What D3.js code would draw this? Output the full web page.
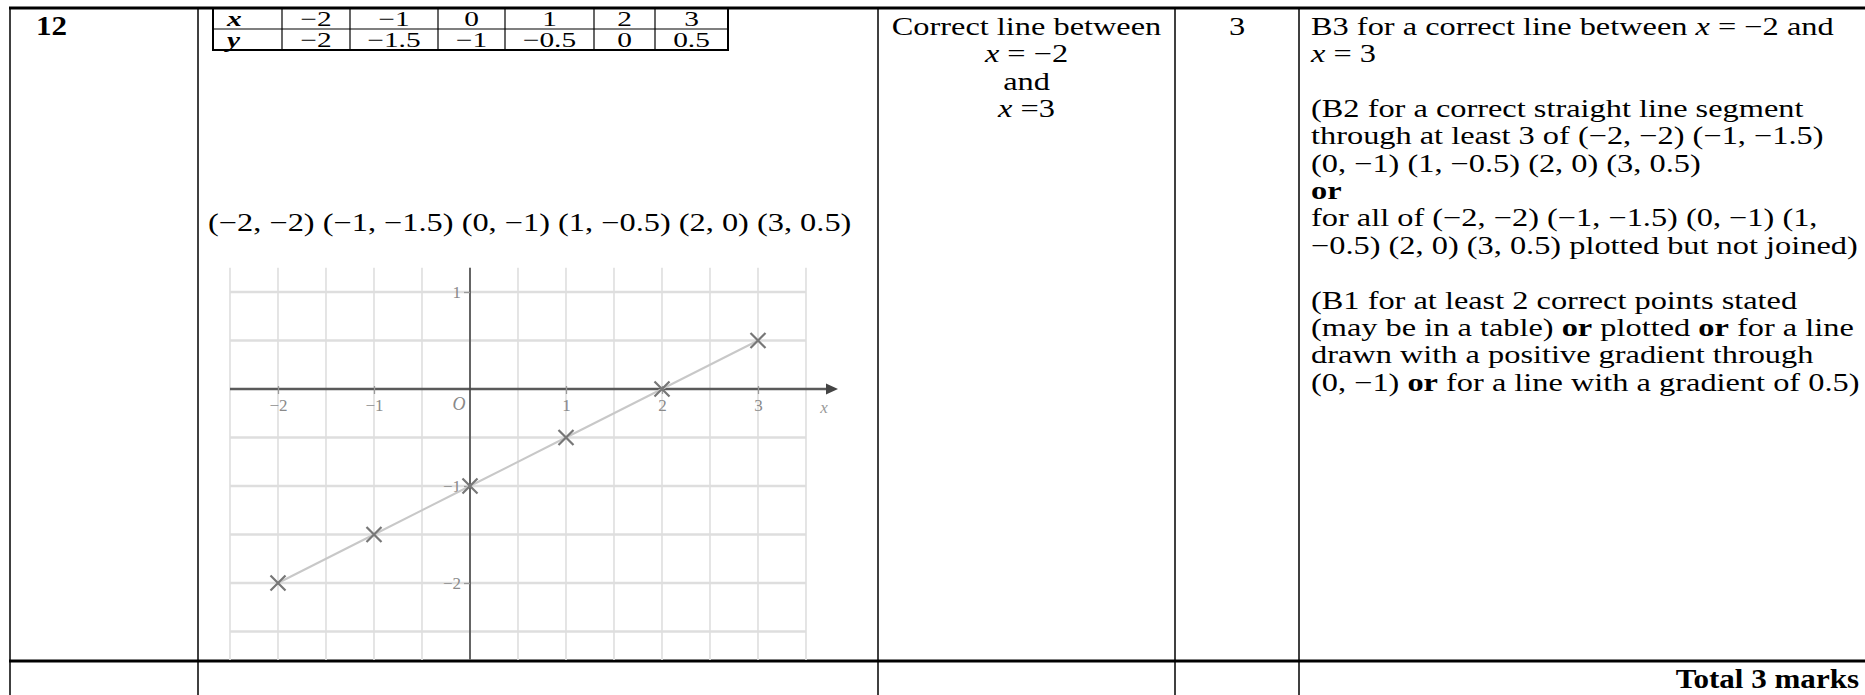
<!DOCTYPE html>
<html>
<head>
<meta charset="utf-8">
<script src="https://cdn.jsdelivr.net/npm/d3@7"></script>
<style>
  body { margin: 0; background: #fff; }
  svg { display: block; font-family: "Liberation Serif", "Times New Roman", serif; }
</style>
</head>
<body>
<svg id="sheet" width="1865" height="695"></svg>
<script>
// data
const xValues = [-2, -1, 0, 1, 2, 3];
const yValues = [-2, -1.5, -1, -0.5, 0, 0.5];
const xTicks = [-2, -1, 1, 2, 3];
const yTicks = [1, -1, -2];
const gridX = [-2.5, -2, -1.5, -1, -0.5, 0, 0.5, 1, 1.5, 2, 2.5, 3, 3.5];
const gridY = [1, 0.5, -0.5, -1, -1.5, -2, -2.5];
const marks = 3;

const fmt = v => String(v).replace("-", "\u2212");

const svg = d3.select("#sheet");
const SX = 1.27;     // scan is wider than tall
const FS = 25.5;
const LH = 27.35;
const TOP = 35;

function txt(parent, x, y, parts, opts = {}) {
  const t = parent.append("text")
    .attr("transform", `translate(${x},${y}) scale(${opts.sx || SX},1)`)
    .attr("font-size", opts.size || FS)
    .attr("text-anchor", opts.anchor || "start")
    .attr("fill", "#000");
  if (opts.bold) t.attr("font-weight", "bold");
  const list = typeof parts === "string" ? [[parts]] : parts;
  list.forEach(([s, st]) => {
    const sp = t.append("tspan").text(s);
    if (st && st.includes("i")) sp.attr("font-style", "italic");
    if (st && st.includes("b")) sp.attr("font-weight", "bold");
  });
  return t;
}

// table frame
const cols = [10, 198, 878, 1175, 1299];
const topY = 8, sepY = 661;
const frame = svg.append("g").attr("stroke", "#000");
cols.forEach(x => frame.append("line")
  .attr("x1", x).attr("x2", x).attr("y1", topY).attr("y2", 695)
  .attr("stroke-width", 1.5));
frame.append("line").attr("x1", 9).attr("x2", 1865).attr("y1", topY).attr("y2", topY).attr("stroke-width", 3);
frame.append("line").attr("x1", 9).attr("x2", 1865).attr("y1", sepY).attr("y2", sepY).attr("stroke-width", 3);

// column 1
txt(svg, 36, TOP, "12", { bold: true, size: 27, sx: 1.15 });

// small value table
const cellX = [213, 282, 350, 438, 505, 594, 655, 728];
const tRows = [8, 29, 50];
const tbl = svg.append("g");
tbl.append("rect")
  .attr("x", cellX[0]).attr("y", tRows[0])
  .attr("width", cellX[7] - cellX[0]).attr("height", tRows[2] - tRows[0])
  .attr("fill", "none").attr("stroke", "#000").attr("stroke-width", 2);
tbl.append("line").attr("x1", cellX[0]).attr("x2", cellX[7])
  .attr("y1", tRows[1]).attr("y2", tRows[1]).attr("stroke", "#000").attr("stroke-width", 1.2);
cellX.slice(1, 7).forEach(x => tbl.append("line")
  .attr("x1", x).attr("x2", x).attr("y1", tRows[0]).attr("y2", tRows[2])
  .attr("stroke", "#000").attr("stroke-width", 1.2));
const rowCells = [["x", xValues], ["y", yValues]];
rowCells.forEach(([head, vals], r) => {
  const by = r === 0 ? 25.5 : 46.5;
  const o = { anchor: "middle", size: 21, sx: 1.4 };
  txt(tbl, cellX[0] + 14, by, [[head, "ib"]], { size: 21, sx: 1.4 });
  vals.forEach((v, i) => {
    txt(tbl, (cellX[i + 1] + cellX[i + 2]) / 2, by, fmt(v), o);
  });
});

// list of points
const pointsText = xValues.map((x, i) => `(${fmt(x)}, ${fmt(yValues[i])})`).join(" ");
txt(svg, 208, 231, pointsText);

// graph
const xScale = d3.scaleLinear().domain([-2, 3]).range([278, 758]);
const yScale = d3.scaleLinear().domain([-2, 1]).range([583, 292]);
const gTop = yScale(1.25), gBottom = sepY - 1;
const graph = svg.append("g");

graph.selectAll(".vgrid").data(gridX).enter().append("line")
  .attr("class", "vgrid")
  .attr("x1", d => xScale(d)).attr("x2", d => xScale(d))
  .attr("y1", gTop).attr("y2", gBottom)
  .attr("stroke", "#e2e2e2").attr("stroke-width", 1.8);
graph.selectAll(".hgrid").data(gridY).enter().append("line")
  .attr("class", "hgrid")
  .attr("x1", xScale(-2.5)).attr("x2", xScale(3.5))
  .attr("y1", d => yScale(d)).attr("y2", d => yScale(d))
  .attr("stroke", "#dedede").attr("stroke-width", 2.4);

// axes
const x0 = xScale(0), y0 = yScale(0);
const xEnd = 826;
graph.append("line")
  .attr("x1", xScale(-2.5)).attr("x2", xEnd)
  .attr("y1", y0).attr("y2", y0)
  .attr("stroke", "#5a5a5a").attr("stroke-width", 2.5);
graph.append("path")
  .attr("d", `M${xEnd},${y0 - 5.5} L${xEnd + 12},${y0} L${xEnd},${y0 + 5.5} Z`)
  .attr("fill", "#444");
graph.append("line")
  .attr("x1", x0).attr("x2", x0)
  .attr("y1", gTop).attr("y2", gBottom)
  .attr("stroke", "#444").attr("stroke-width", 1.6);

const xAxis = graph.append("g")
  .attr("transform", `translate(0,${y0 - 3})`)
  .call(d3.axisBottom(xScale).tickValues(xTicks).tickFormat(d3.format("d")).tickSize(8).tickPadding(5));
const yAxis = graph.append("g")
  .attr("transform", `translate(${x0},0)`)
  .call(d3.axisLeft(yScale).tickValues(yTicks).tickFormat(d3.format("d")).tickSize(6).tickPadding(3));
[xAxis, yAxis].forEach(a => {
  a.select(".domain").remove();
  a.selectAll(".tick line").attr("stroke", "#999").attr("stroke-width", 1.3);
  a.selectAll(".tick text")
    .attr("fill", "#8a8a8a")
    .attr("font-family", "Liberation Serif, serif")
    .attr("font-size", 17);
});

graph.append("text")
  .attr("x", x0 - 11).attr("y", y0 + 21)
  .attr("text-anchor", "middle")
  .attr("font-style", "italic")
  .attr("font-size", 18)
  .attr("fill", "#888")
  .text("O");
graph.append("text")
  .attr("x", xEnd - 2).attr("y", y0 + 24)
  .attr("text-anchor", "middle")
  .attr("font-style", "italic")
  .attr("font-size", 17)
  .attr("fill", "#999")
  .text("x");

const pts = xValues.map((x, i) => [x, yValues[i]]);
graph.append("path")
  .datum(pts)
  .attr("d", d3.line().x(d => xScale(d[0])).y(d => yScale(d[1])))
  .attr("fill", "none")
  .attr("stroke", "#c8c8c8")
  .attr("stroke-width", 2);
graph.selectAll(".cross").data(pts).enter().append("path")
  .attr("class", "cross")
  .attr("d", d => {
    const cx = xScale(d[0]), cy = yScale(d[1]), r = 7.5;
    return `M${cx - r},${cy - r} L${cx + r},${cy + r} M${cx - r},${cy + r} L${cx + r},${cy - r}`;
  })
  .attr("stroke", "#777")
  .attr("stroke-width", 2.2);

// column 3
const answerLines = [
  [["Correct line between"]],
  [["x", "i"], [" = \u22122"]],
  [["and"]],
  [["x", "i"], [" =3"]]
];
const c3 = (cols[2] + cols[3]) / 2;
answerLines.forEach((parts, i) => txt(svg, c3, TOP + i * LH, parts, { anchor: "middle" }));

// column 4
txt(svg, (cols[3] + cols[4]) / 2, TOP, String(marks), { anchor: "middle" });

// column 5
const guidance = [
  [["B3 for a correct line between "], ["x", "i"], [" = \u22122 and"]],
  [["x", "i"], [" = 3"]],
  [],
  [["(B2 for a correct straight line segment"]],
  [["through at least 3 of (\u22122, \u22122) (\u22121, \u22121.5)"]],
  [["(0, \u22121) (1, \u22120.5) (2, 0) (3, 0.5)"]],
  [["or", "b"]],
  [["for all of (\u22122, \u22122) (\u22121, \u22121.5) (0, \u22121) (1,"]],
  [["\u22120.5) (2, 0) (3, 0.5) plotted but not joined)"]],
  [],
  [["(B1 for at least 2 correct points stated"]],
  [["(may be in a table) "], ["or", "b"], [" plotted "], ["or", "b"], [" for a line"]],
  [["drawn with a positive gradient through"]],
  [["(0, \u22121) "], ["or", "b"], [" for a line with a gradient of 0.5)"]]
];
guidance.forEach((parts, i) => {
  if (parts.length) txt(svg, 1311, TOP + i * LH, parts);
});

// total row
txt(svg, 1859, 688, `Total ${marks} marks`, { anchor: "end", bold: true, size: 27, sx: 1.15 });
</script>
</body>
</html>
